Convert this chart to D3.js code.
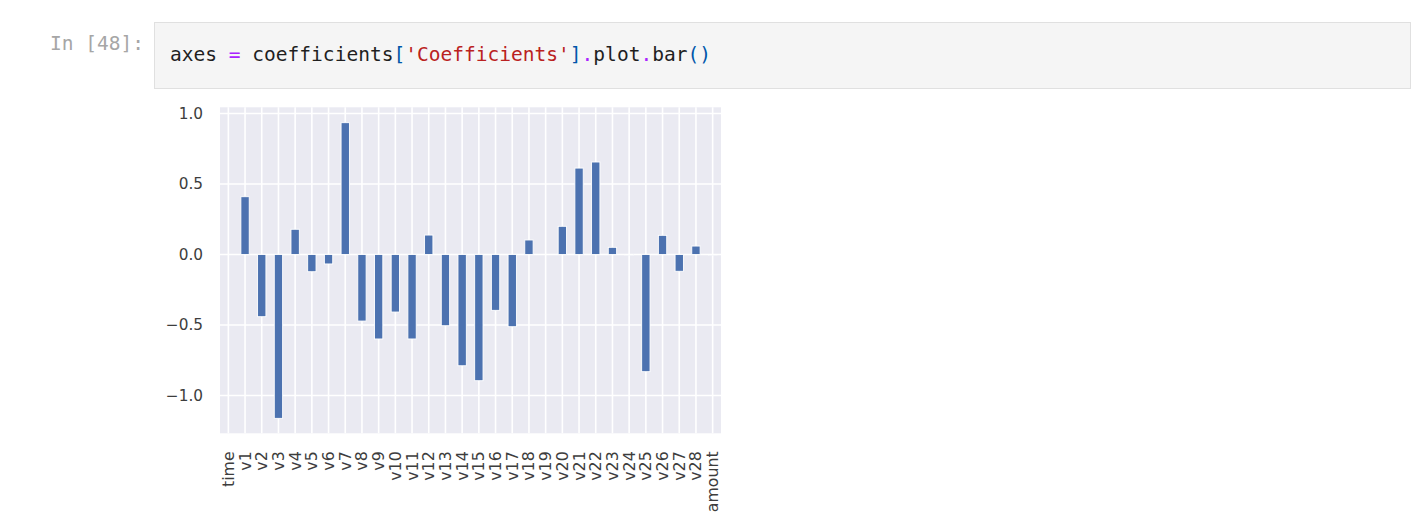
<!DOCTYPE html>
<html>
<head>
<meta charset="utf-8">
<script src="https://cdn.jsdelivr.net/npm/d3@7"></script>
<style>
  html, body { margin: 0; padding: 0; background: #ffffff; }
  svg { display: block; }
</style>
</head>
<body>
<svg id="chart" width="1426" height="517"></svg>
<script>
const categories = ["time","v1","v2","v3","v4","v5","v6","v7","v8","v9","v10","v11","v12","v13","v14","v15","v16","v17","v18","v19","v20","v21","v22","v23","v24","v25","v26","v27","v28","amount"];
const coefficients = [0.0, 0.41, -0.441, -1.162, 0.179, -0.122, -0.067, 0.935, -0.472, -0.599, -0.408, -0.599, 0.138, -0.505, -0.789, -0.895, -0.396, -0.512, 0.103, 0.0, 0.2, 0.613, 0.656, 0.051, -0.004, -0.831, 0.136, -0.119, 0.06, -0.004];
const yTicks = [-1.0, -0.5, 0.0, 0.5, 1.0];
const promptText = "In [48]:";
const codeTokens = [
  ["axes ", "#1f1f1f"], ["=", "#aa22ff"], [" coefficients", "#1f1f1f"],
  ["[", "#0055aa"], ["'Coefficients'", "#ba2121"], ["]", "#0055aa"],
  [".", "#aa22ff"], ["plot", "#1f1f1f"], [".", "#aa22ff"], ["bar", "#1f1f1f"],
  ["()", "#0055aa"]
];

(function () {
const svg = d3.select("#chart");

// ---- code cell ----
svg.append("rect")
  .attr("x", 154.5).attr("y", 22.5).attr("width", 1256).attr("height", 66)
  .attr("fill", "#f5f5f5").attr("stroke", "#e0e0e0").attr("stroke-width", 1);

svg.append("text")
  .attr("x", 50).attr("y", 50)
  .attr("font-family", "DejaVu Sans Mono").attr("font-size", "19.5px")
  .attr("fill", "#a6a6a6")
  .text(promptText);

const code = svg.append("text")
  .attr("x", 170).attr("y", 61)
  .attr("font-family", "DejaVu Sans Mono").attr("font-size", "19.55px")
  .style("white-space", "pre");
codeTokens.forEach(([t, c]) => code.append("tspan").attr("fill", c).text(t));

// ---- chart ----
const pl = 220, pr = 721, pt = 107.3, pb = 433.3;
const x = d3.scaleBand().domain(categories).range([pl, pr])
  .paddingInner(0.5).paddingOuter(0.25);
const y = d3.scaleLinear().domain([-1.268, 1.044]).range([pb, pt]);

svg.append("rect")
  .attr("x", pl).attr("y", pt).attr("width", pr - pl).attr("height", pb - pt)
  .attr("fill", "#eaeaf2");

// grid
svg.append("g").selectAll("line").data(yTicks).join("line")
  .attr("x1", pl).attr("x2", pr)
  .attr("y1", d => y(d)).attr("y2", d => y(d))
  .attr("stroke", "#ffffff").attr("stroke-width", 1.6);
svg.append("g").selectAll("line").data(categories).join("line")
  .attr("x1", d => x(d) + x.bandwidth() / 2).attr("x2", d => x(d) + x.bandwidth() / 2)
  .attr("y1", pt).attr("y2", pb)
  .attr("stroke", "#ffffff").attr("stroke-width", 1.6);

// bars
svg.append("g").selectAll("rect").data(categories.map((c, i) => ({ c, v: coefficients[i] })))
  .join("rect")
  .attr("x", d => x(d.c))
  .attr("width", x.bandwidth())
  .attr("y", d => y(Math.max(0, d.v)))
  .attr("height", d => Math.abs(y(d.v) - y(0)))
  .attr("fill", "#4c72b0")
  .attr("stroke", d => d.v === 0 ? "none" : "#ffffff")
  .attr("stroke-width", 0.9);

// y axis labels
const yAxis = d3.axisLeft(y).tickValues(yTicks).tickSize(0).tickPadding(17)
  .tickFormat(d => d3.format(".1f")(d).replace("-", "\u2212"));
const gy = svg.append("g").attr("transform", `translate(${pl},0)`).call(yAxis);
gy.select(".domain").remove();
gy.selectAll("text")
  .attr("font-family", "DejaVu Sans").attr("font-size", "15.3px").attr("fill", "#3d3d3d");

// x axis labels
const xAxis = d3.axisBottom(x).tickSize(0).tickPadding(0);
const gx = svg.append("g").attr("transform", `translate(0,${pb})`).call(xAxis);
gx.select(".domain").remove();
gx.selectAll("text")
  .attr("font-family", "DejaVu Sans").attr("font-size", "15.8px").attr("fill", "#3d3d3d")
  .attr("text-anchor", "end")
  .attr("dy", "0.35em")
  .attr("transform", "translate(0,18) rotate(-90)")
  .attr("x", 0).attr("y", 0);
})();
</script>
</body>
</html>
